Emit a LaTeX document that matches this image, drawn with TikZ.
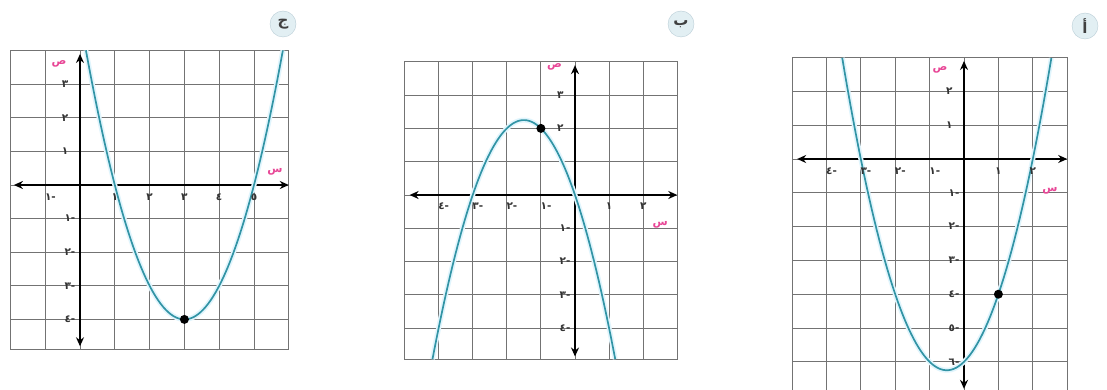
\documentclass[tikz,border=0pt]{standalone}
\usepackage{fontspec}
\usepackage{xcolor}
\usetikzlibrary{arrows.meta}
\newfontfamily\arabicfont[Script=Arabic]{DejaVu Sans}
\TeXXeTstate=1
\definecolor{curvecol}{RGB}{50,148,165}
\definecolor{labelpink}{RGB}{232,70,150}
\definecolor{tagfill}{RGB}{226,239,243}
\definecolor{tagline}{RGB}{185,205,214}
\tikzstyle{gridline} = [draw=black!55, line width=0.9pt]
\tikzstyle{axis}     = [line width=1.8pt, {Stealth[length=9pt,width=8pt]}-{Stealth[length=9pt,width=8pt]}]
\tikzstyle{curve}    = [draw=curvecol, line width=1.7pt, preaction={draw=cyan!12, line width=5pt}]
\tikzstyle{num}      = [font=\arabicfont\bfseries\fontsize{10.5}{12}\selectfont, text=black!80, inner sep=1pt]
\tikzstyle{axlabel}  = [font=\arabicfont\bfseries\fontsize{11}{12}\selectfont, text=labelpink, inner sep=0pt]
\tikzstyle{tag}      = [circle, minimum size=26pt, inner sep=0pt, fill=tagfill, draw=tagline, font=\arabicfont\bfseries\fontsize{15}{16}\selectfont, text=black!75]
\tikzstyle{markdot}  = [circle, fill=black, minimum size=9pt, inner sep=0pt]

\begin{document}
\begin{tikzpicture}[x=1pt, y=1pt]
\useasboundingbox (0,0) rectangle (1107,-390);
\fill[white] (0,0) rectangle (1107,-390);

% graph jim
\begin{scope}[shift={(80pt,-185pt)}, x=34.8pt, y=33.6pt]
\draw[gridline, step=1] (-2,-4.9) grid (6,4);
\draw[gridline] (-2,-4.9) rectangle (6,4);
\coordinate (jL) at (-1.9,0);
\coordinate (jR) at (6,0);
\coordinate (jB) at (0,-4.8);
\coordinate (jT) at (0,3.9);
\draw[axis] (jL) -- (jR);
\draw[axis] (jB) -- (jT);
\draw[curve] plot[domain=0.17:5.83, samples=80] (\x, {\x*\x-6*\x+5});
\node (jV) [markdot] at (3,-4) {};
\node (jY3)  [num, anchor=east] at (-0.3,3)  {٣};
\node (jY2)  [num, anchor=east] at (-0.3,2)  {٢};
\node (jY1)  [num, anchor=east] at (-0.3,1)  {١};
\node (jYm1) [num, anchor=east] at (-0.1,-1) {-١};
\node (jYm2) [num, anchor=east] at (-0.1,-2) {-٢};
\node (jYm3) [num, anchor=east] at (-0.1,-3) {-٣};
\node (jYm4) [num, anchor=east] at (-0.1,-4) {-٤};
\node (jXm1) [num] at (-0.85,-0.35) {-١};
\node (jX1)  [num] at (1,-0.35) {١};
\node (jX2)  [num] at (2,-0.35) {٢};
\node (jX3)  [num] at (3,-0.35) {٣};
\node (jX4)  [num] at (4,-0.35) {٤};
\node (jX5)  [num] at (5,-0.35) {٥};
\node (jS) [axlabel] at (-0.6,3.6) {\beginR ص\endR};
\node (jX) [axlabel] at (5.6,0.4)  {\beginR س\endR};
\end{scope}
\node (jTag) [tag] at (283,-24) {\beginR ج\endR};

% graph ba
\begin{scope}[shift={(575pt,-195pt)}, x=34.1pt, y=33.3pt]
\draw[gridline, step=1] (-5,-4.95) grid (3,4);
\draw[gridline] (-5,-4.95) rectangle (3,4);
\coordinate (bL) at (-4.85,0);
\coordinate (bR) at (3,0);
\coordinate (bB) at (0,-4.85);
\coordinate (bT) at (0,3.9);
\draw[axis] (bL) -- (bR);
\draw[axis] (bB) -- (bT);
\draw[curve] plot[domain=-4.18:1.18, samples=80] (\x, {-\x*\x-3*\x});
\node (bP) [markdot] at (-1,2) {};
\node (bY3)  [num, anchor=east] at (-0.3,3)  {٣};
\node (bY2)  [num, anchor=east] at (-0.3,2)  {٢};
\node (bYm1) [num, anchor=east] at (-0.1,-1) {-١};
\node (bYm2) [num, anchor=east] at (-0.1,-2) {-٢};
\node (bYm3) [num, anchor=east] at (-0.1,-3) {-٣};
\node (bYm4) [num, anchor=east] at (-0.1,-4) {-٤};
\node (bXm4) [num] at (-3.85,-0.35) {-٤};
\node (bXm3) [num] at (-2.85,-0.35) {-٣};
\node (bXm2) [num] at (-1.85,-0.35) {-٢};
\node (bXm1) [num] at (-0.85,-0.35) {-١};
\node (bX1)  [num] at (1,-0.35) {١};
\node (bX2)  [num] at (2,-0.35) {٢};
\node (bS) [axlabel] at (-0.6,3.85) {\beginR ص\endR};
\node (bX) [axlabel] at (2.5,-0.9)  {\beginR س\endR};
\end{scope}
\node (bTag) [tag] at (681,-24) {\beginR ب\endR};

% graph alif
\begin{scope}[shift={(964pt,-159pt)}, x=34.4pt, y=33.8pt]
\draw[gridline, step=1] (-5,-6.9) grid (3,3);
\draw[gridline] (-5,-6.9) rectangle (3,3);
\coordinate (aL) at (-4.85,0);
\coordinate (aR) at (3,0);
\coordinate (aB) at (0,-6.8);
\coordinate (aT) at (0,2.9);
\draw[axis] (aL) -- (aR);
\draw[axis] (aB) -- (aT);
\draw[curve] plot[domain=-3.54:2.54, samples=80] (\x, {\x*\x+\x-6});
\node (aP) [markdot] at (1,-4) {};
\node (aY2)  [num, anchor=east] at (-0.3,2)  {٢};
\node (aY1)  [num, anchor=east] at (-0.3,1)  {١};
\node (aYm1) [num, anchor=east] at (-0.1,-1) {-١};
\node (aYm2) [num, anchor=east] at (-0.1,-2) {-٢};
\node (aYm3) [num, anchor=east] at (-0.1,-3) {-٣};
\node (aYm4) [num, anchor=east] at (-0.1,-4) {-٤};
\node (aYm5) [num, anchor=east] at (-0.1,-5) {-٥};
\node (aYm6) [num, anchor=east] at (-0.1,-6) {-٦};
\node (aXm4) [num] at (-3.85,-0.35) {-٤};
\node (aXm3) [num] at (-2.85,-0.35) {-٣};
\node (aXm2) [num] at (-1.85,-0.35) {-٢};
\node (aXm1) [num] at (-0.85,-0.35) {-١};
\node (aX1)  [num] at (1,-0.35) {١};
\node (aX2)  [num] at (2,-0.35) {٢};
\node (aS) [axlabel] at (-0.7,2.65) {\beginR ص\endR};
\node (aX) [axlabel] at (2.5,-0.95) {\beginR س\endR};
\end{scope}
\node (aTag) [tag] at (1085,-26) {\beginR أ\endR};

\end{tikzpicture}
\end{document}
